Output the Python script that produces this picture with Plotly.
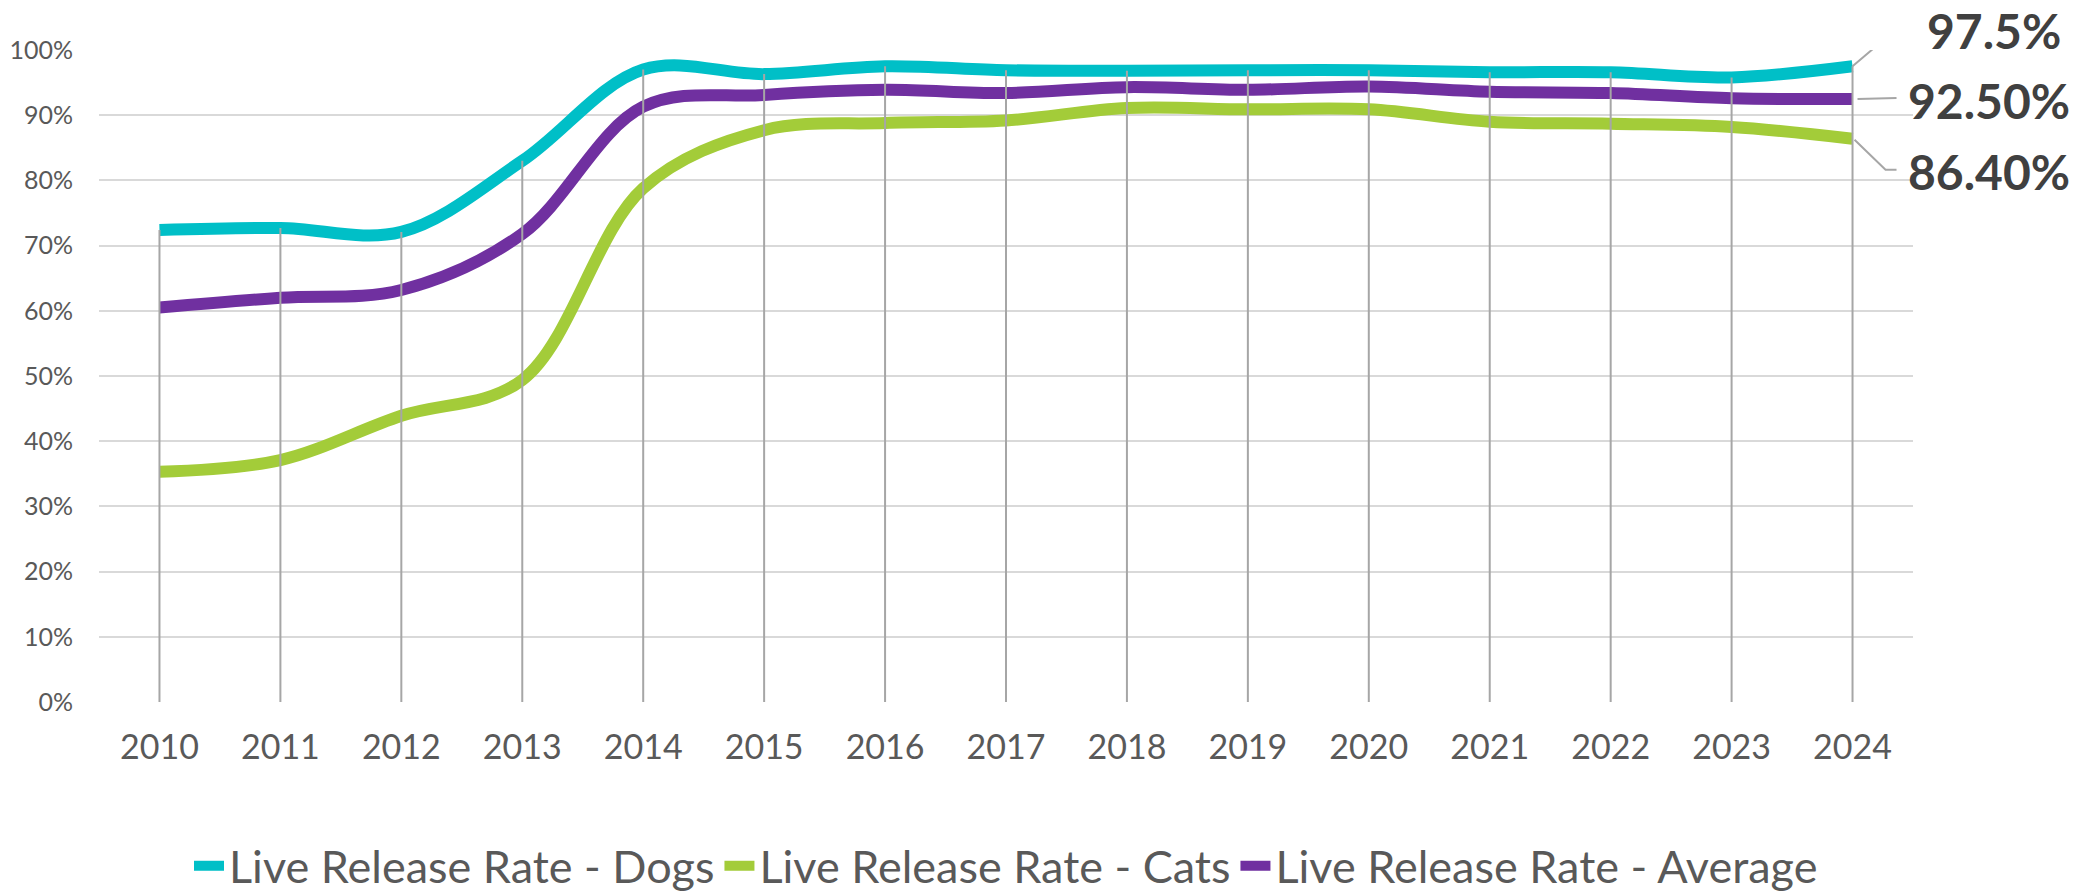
import plotly.graph_objects as go

years = list(range(2010, 2025))
dogs = [72.4, 72.7, 72.1, 83.0, 97.0, 96.3, 97.5, 96.9, 96.8, 96.9, 96.9, 96.6, 96.6, 95.8, 97.5]
cats = [35.3, 37.1, 43.9, 49.4, 78.8, 87.7, 88.8, 89.2, 91.1, 90.9, 90.9, 89.0, 88.7, 88.2, 86.4]
avg = [60.5, 62.0, 63.2, 71.8, 91.3, 93.1, 93.9, 93.4, 94.3, 93.9, 94.4, 93.6, 93.4, 92.6, 92.5]
series_names = ["Live Release Rate - Dogs", "Live Release Rate - Cats", "Live Release Rate - Average"]
end_labels = ["97.5%", "86.40%", "92.50%"]
y_ticks = list(range(0, 101, 10))

colors = ["#00BFC7", "#A3CC39", "#7030A0"]
FONT = "Lato"

fig = go.Figure()
for name, vals, col in zip(series_names, [dogs, cats, avg], colors):
    fig.add_trace(go.Scatter(
        x=years, y=vals, name=name, mode="lines",
        line=dict(color=col, width=12, shape="spline", smoothing=1.0),
        hoverinfo="x+y+name", cliponaxis=False,
    ))

# drop lines (from highest point down to axis), drawn on top
dx, dy = [], []
for i, yr in enumerate(years):
    top = max(dogs[i], cats[i], avg[i])
    dx += [yr, yr, None]
    dy += [0, top, None]
fig.add_trace(go.Scatter(x=dx, y=dy, mode="lines", showlegend=False, hoverinfo="skip",
                         line=dict(color="#A6A6A6", width=2)))

# end labels with leader lines
lab_cfg = [
    (dogs[-1], end_labels[0], 72, 36, "M0,0 L47,40 L61,40"),
    (cats[-1], end_labels[1], 53, -33, "M2,-1 L33,-31 L44,-31"),
    (avg[-1], end_labels[2], 53, -2, "M5,0 L44,1"),
]
for val, txt, xs, ys, path in lab_cfg:
    fig.add_annotation(x=years[-1], y=val, xref="x", yref="y", text=txt, showarrow=False,
                       xanchor="left", yanchor="middle", xshift=xs, yshift=ys,
                       font=dict(family=FONT, size=48, color="#404040", weight="bold"))
    fig.add_shape(type="path", xref="x", yref="y", xsizemode="pixel", ysizemode="pixel",
                  xanchor=years[-1], yanchor=val, path=path,
                  line=dict(color="#A6A6A6", width=2))

fig.update_layout(
    width=2072, height=885,
    margin=dict(l=91, r=167, t=42, b=191, autoexpand=False),
    paper_bgcolor="white", plot_bgcolor="white",
    font=dict(family=FONT, color="#595959"),
    showlegend=True,
    legend=dict(orientation="h", x=0.5, xanchor="center", y=0.0305, yanchor="middle",
                yref="container",
                font=dict(family=FONT, size=45, color="#595959"), itemwidth=30,
                traceorder="normal"),
    hovermode="closest",
)
fig.update_xaxes(range=[2009.5, 2024.5], tickmode="array", tickvals=years,
                 ticktext=[str(y) for y in years], showgrid=False, zeroline=False,
                 showline=False, ticks="", tickfont=dict(family=FONT, size=34, color="#595959"),
                 ticklabelstandoff=22, automargin=False)
fig.update_yaxes(range=[0, 100], tickmode="array", tickvals=y_ticks,
                 ticktext=[f"{v}%" for v in y_ticks], showgrid=True, gridcolor="#D9D9D9",
                 gridwidth=2, zeroline=False, showline=False, ticks="",
                 tickfont=dict(family=FONT, size=25, color="#595959"), ticklabelstandoff=25,
                 automargin=False)

fig.write_html("out.html")
